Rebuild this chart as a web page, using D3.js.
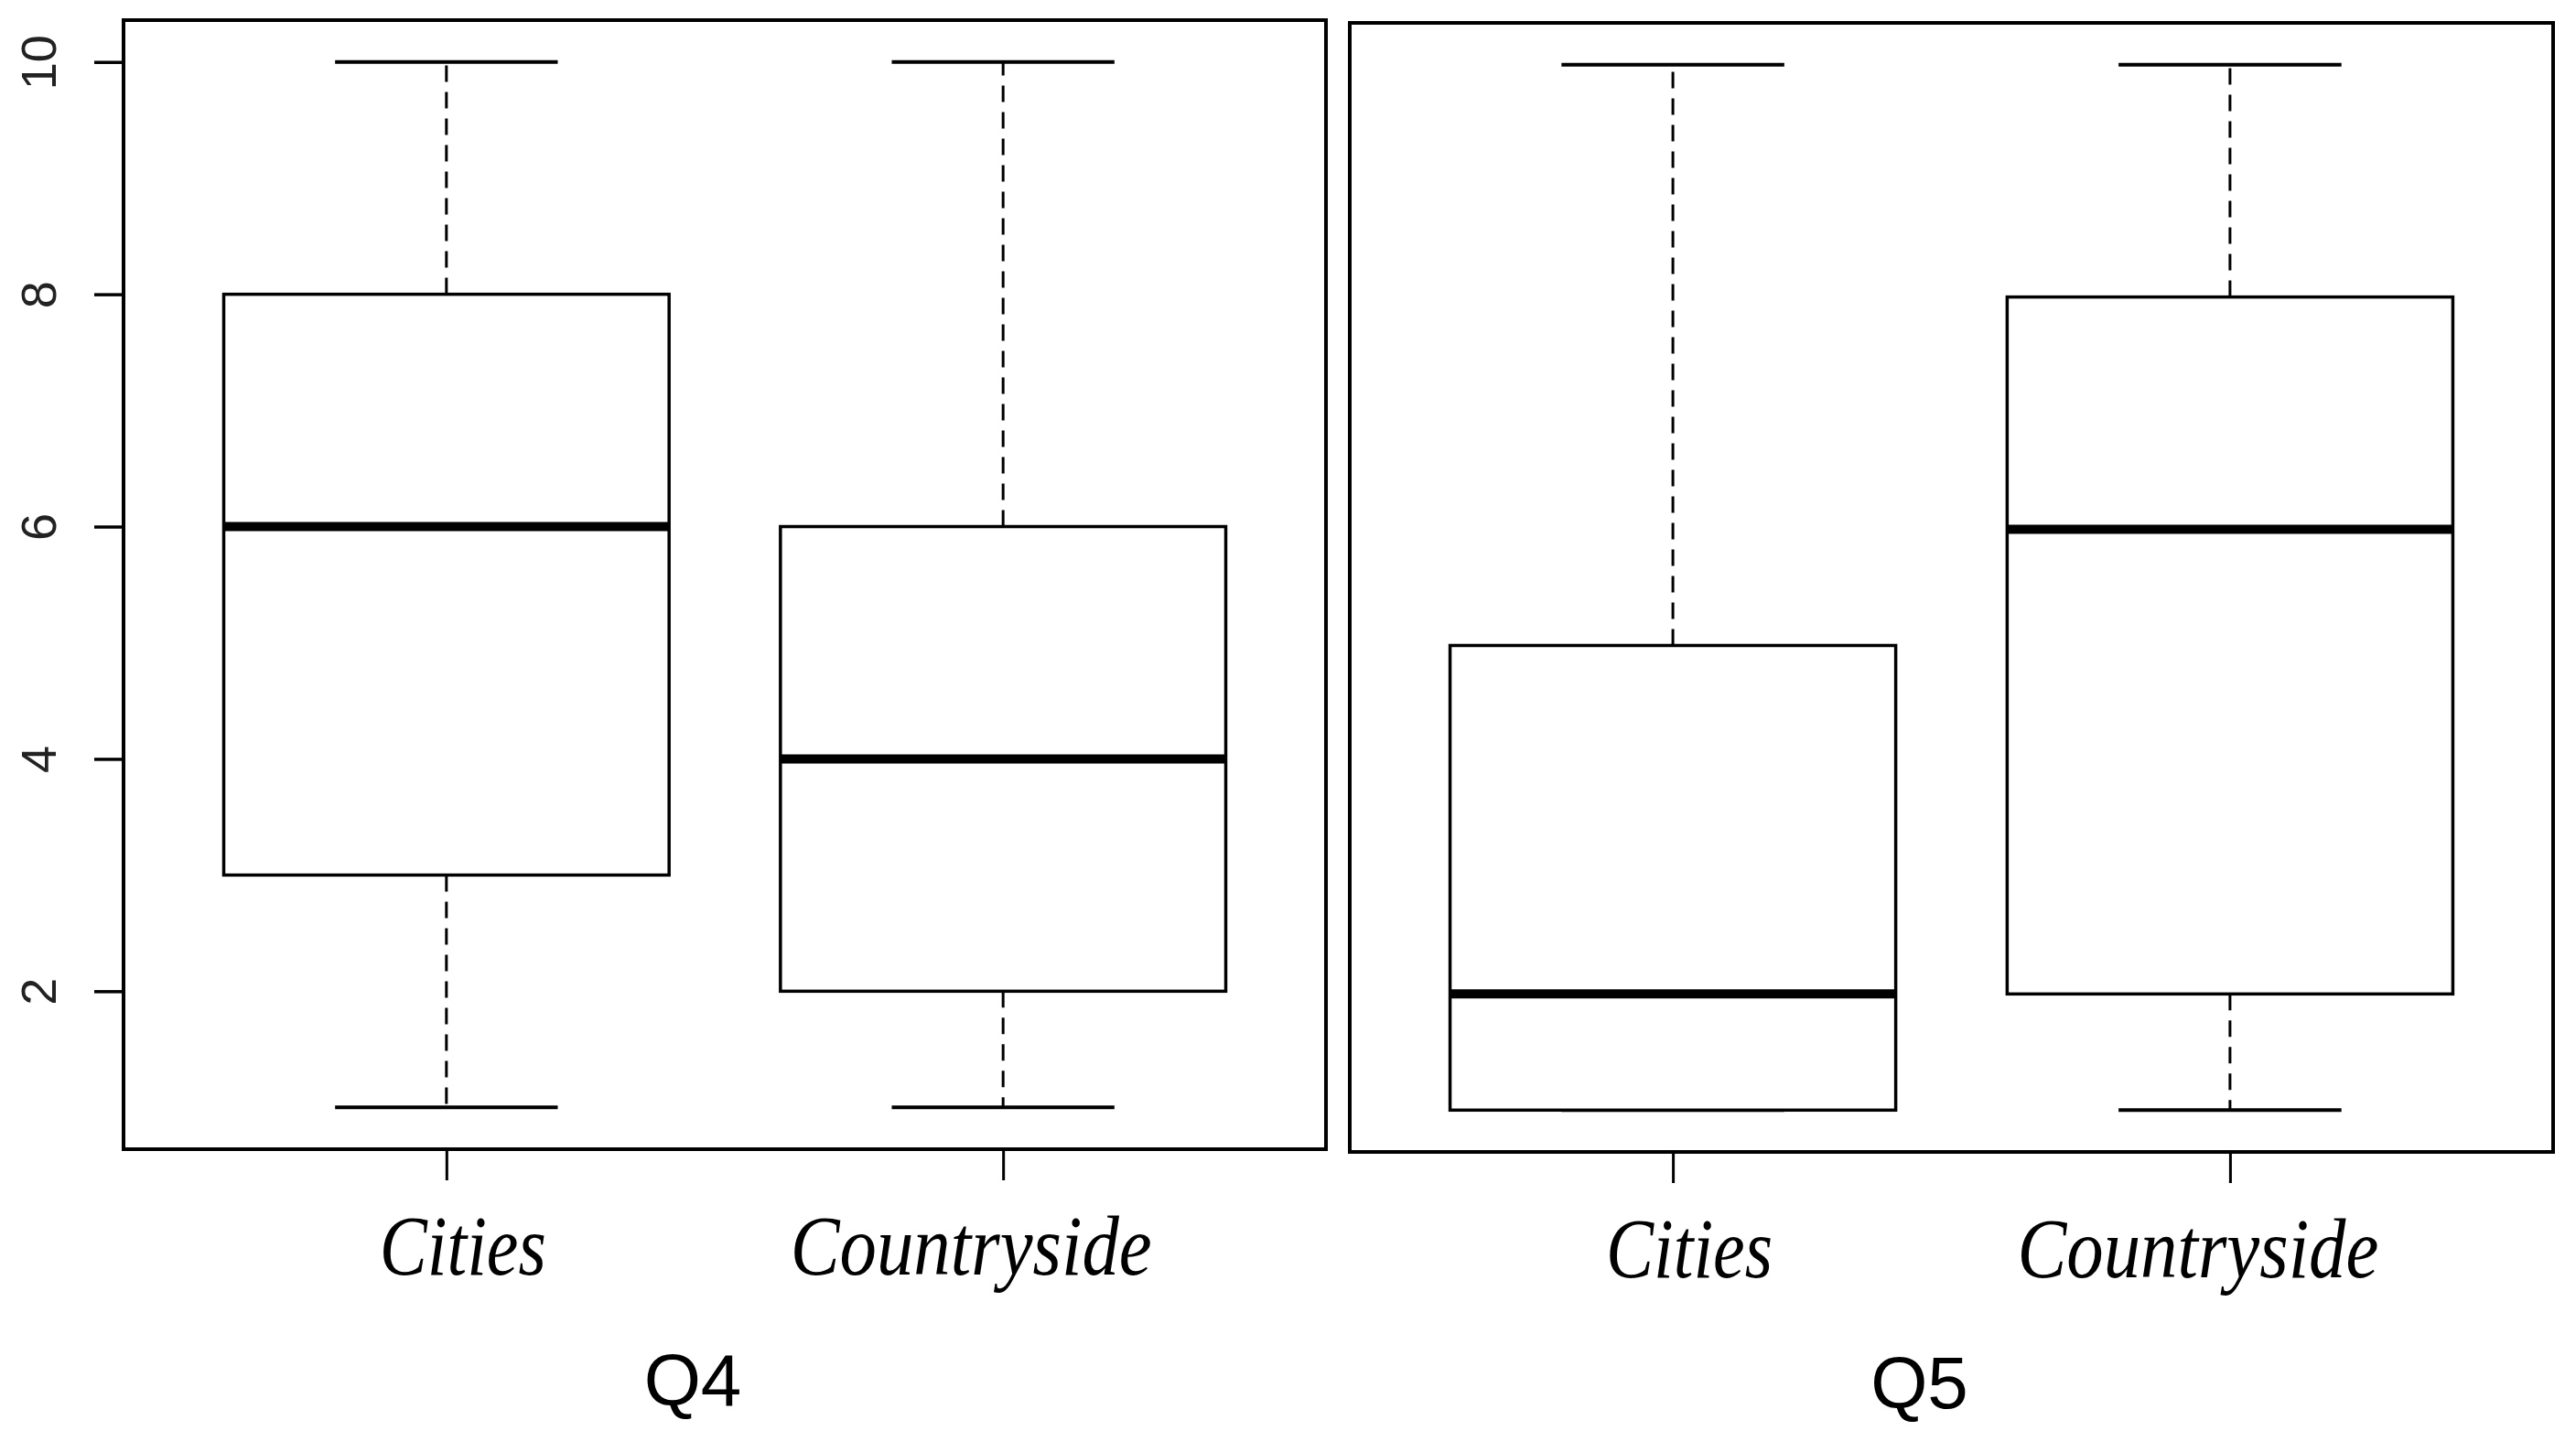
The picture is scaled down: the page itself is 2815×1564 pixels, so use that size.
<!DOCTYPE html>
<html>
<head>
<meta charset="utf-8">
<script src="https://cdnjs.cloudflare.com/ajax/libs/d3/7.8.5/d3.min.js"></script>
<style>
html, body { margin: 0; padding: 0; background: #fff; }
svg { display: block; }
</style>
</head>
<body>
<svg id="chart" width="2815" height="1564"></svg>
<script>
// data
var groups = ["Cities", "Countryside"];
var panelNames = ["Q4", "Q5"];
var yTicks = [2, 4, 6, 8, 10];

var q4Min = [1, 1], q4Q1 = [3, 2], q4Med = [6, 4], q4Q3 = [8, 6], q4Max = [10, 10];
var q5Min = [1, 1], q5Q1 = [1, 2], q5Med = [2, 6], q5Q3 = [5, 8], q5Max = [10, 10];

function stats(mn, q1, med, q3, mx) {
  return groups.map(function(g, i) {
    return {label: g, pos: i + 1, min: mn[i], q1: q1[i], med: med[i], q3: q3[i], max: mx[i]};
  });
}

var panels = [
  {name: panelNames[0], x0: 135, x1: 1449, y0: 22, y1: 1256, axis: true,
   data: stats(q4Min, q4Q1, q4Med, q4Q3, q4Max)},
  {name: panelNames[1], x0: 1475, x1: 2790, y0: 25, y1: 1259, axis: false,
   data: stats(q5Min, q5Q1, q5Med, q5Q3, q5Max)}
];

var labelShift = [18, -35];   // italic group labels sit a bit off the ticks
var svg = d3.select("#chart");
svg.append("rect").attr("width", 2815).attr("height", 1564).attr("fill", "#fff");

panels.forEach(function(p) {
  // R style limits: 4% padding around 0.5..2.5 and 1..10
  var x = d3.scaleLinear().domain([0.42, 2.58]).range([p.x0, p.x1]);
  var y = d3.scaleLinear().domain([0.64, 10.36]).range([p.y1, p.y0]);
  var unit = x(1) - x(0);
  var g = svg.append("g");

  var box = g.selectAll(".box")
      .data(p.data)
    .enter().append("g")
      .attr("class", "box");

  // whiskers
  box.filter(function(d) { return d.max > d.q3; }).append("line")
      .attr("x1", function(d) { return x(d.pos); })
      .attr("x2", function(d) { return x(d.pos); })
      .attr("y1", function(d) { return y(d.q3); })
      .attr("y2", function(d) { return y(d.max); })
      .attr("stroke", "#000").attr("stroke-width", 3)
      .attr("stroke-dasharray", "18,11");
  box.filter(function(d) { return d.q1 > d.min; }).append("line")
      .attr("x1", function(d) { return x(d.pos); })
      .attr("x2", function(d) { return x(d.pos); })
      .attr("y1", function(d) { return y(d.q1); })
      .attr("y2", function(d) { return y(d.min); })
      .attr("stroke", "#000").attr("stroke-width", 3)
      .attr("stroke-dasharray", "18,11");

  // staples
  ["min", "max"].forEach(function(k) {
    box.append("line")
        .attr("x1", function(d) { return x(d.pos - 0.2); })
        .attr("x2", function(d) { return x(d.pos + 0.2); })
        .attr("y1", function(d) { return y(d[k]); })
        .attr("y2", function(d) { return y(d[k]); })
        .attr("stroke", "#000").attr("stroke-width", 4);
  });

  box.append("rect")
      .attr("x", function(d) { return x(d.pos - 0.4); })
      .attr("width", 0.8 * unit)
      .attr("y", function(d) { return y(d.q3); })
      .attr("height", function(d) { return y(d.q1) - y(d.q3); })
      .attr("fill", "#fff")
      .attr("stroke", "#000").attr("stroke-width", 3.5);

  box.append("line")
      .attr("x1", function(d) { return x(d.pos - 0.4); })
      .attr("x2", function(d) { return x(d.pos + 0.4); })
      .attr("y1", function(d) { return y(d.med); })
      .attr("y2", function(d) { return y(d.med); })
      .attr("stroke", "#000").attr("stroke-width", 10);

  // frame
  g.append("rect")
      .attr("x", p.x0).attr("y", p.y0)
      .attr("width", p.x1 - p.x0).attr("height", p.y1 - p.y0)
      .attr("fill", "none").attr("stroke", "#000").attr("stroke-width", 4);

  if (p.axis) {
    var ya = g.append("g")
        .attr("transform", "translate(" + p.x0 + ",0)")
        .call(d3.axisLeft(y).tickValues(yTicks).tickSize(32));
    ya.select(".domain").remove();
    ya.selectAll(".tick line").attr("stroke", "#000").attr("stroke-width", 3.5);
    ya.selectAll(".tick text")
        .attr("transform", "rotate(-90)")
        .attr("x", 0).attr("y", -74).attr("dy", 0)
        .attr("text-anchor", "middle")
        .attr("fill", "#222")
        .style("font-family", "'Liberation Sans', Arial, sans-serif")
        .style("font-size", "54px");
  }

  var xa = g.append("g")
      .attr("transform", "translate(0," + p.y1 + ")")
      .call(d3.axisBottom(x).tickValues(p.data.map(function(d) { return d.pos; }))
        .tickFormat("").tickSize(34));
  xa.select(".domain").remove();
  xa.selectAll(".tick line").attr("stroke", "#000").attr("stroke-width", 3);

  g.selectAll(".grp")
      .data(p.data)
    .enter().append("text")
      .attr("class", "grp")
      .attr("x", function(d, i) { return x(d.pos) + labelShift[i]; })
      .attr("y", p.y1 + 137)
      .attr("text-anchor", "middle")
      .attr("textLength", function(d) { return d.label === "Cities" ? 182 : 395; })
      .attr("lengthAdjust", "spacingAndGlyphs")
      .style("font-family", "'Liberation Serif', 'Times New Roman', serif")
      .style("font-style", "italic")
      .style("font-size", "94px")
      .text(function(d) { return d.label; });

  g.append("text")
      .attr("x", (p.x0 + p.x1) / 2 - 35)
      .attr("y", p.y1 + 280)
      .attr("text-anchor", "middle")
      .style("font-family", "'Liberation Sans', Arial, sans-serif")
      .style("font-size", "80px")
      .text(p.name);
});
</script>
</body>
</html>
